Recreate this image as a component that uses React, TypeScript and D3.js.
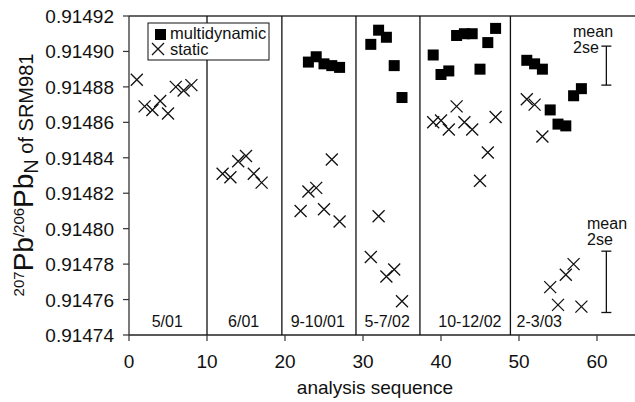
import * as d3 from "d3";
import React from "react";

// analysis sequence number / 207Pb/206Pb ratio
const staticSeq = [1, 2, 3, 4, 5, 6, 7, 8, 12, 13, 14, 15, 16, 17, 22, 23, 24, 25, 26, 27, 31, 32, 33, 34, 35,
  39, 40, 41, 42, 43, 44, 45, 46, 47, 51, 52, 53, 54, 55, 56, 57, 58];
const staticVal = [0.914884, 0.914869, 0.914867, 0.914872, 0.914865, 0.91488, 0.914878, 0.914881,
  0.914831, 0.914829, 0.914838, 0.914841, 0.914831, 0.914826,
  0.91481, 0.914821, 0.914823, 0.914811, 0.914839, 0.914804,
  0.914784, 0.914807, 0.914773, 0.914777, 0.914759,
  0.91486, 0.914861, 0.914856, 0.914869, 0.91486, 0.914856, 0.914827, 0.914843, 0.914863,
  0.914873, 0.91487, 0.914852, 0.914767, 0.914757, 0.914774, 0.91478, 0.914756];

const multiSeq = [23, 24, 25, 26, 27, 31, 32, 33, 34, 35, 39, 40, 41, 42, 43, 44, 45, 46, 47,
  51, 52, 53, 54, 55, 56, 57, 58];
const multiVal = [0.914894, 0.914897, 0.914893, 0.914892, 0.914891,
  0.914904, 0.914912, 0.914908, 0.914892, 0.914874,
  0.914898, 0.914887, 0.914889, 0.914909, 0.91491, 0.91491, 0.91489, 0.914905, 0.914913,
  0.914895, 0.914893, 0.91489, 0.914867, 0.914859, 0.914858, 0.914875, 0.914879];

const dividers = [10, 19.6, 29.1, 37.3, 48.9];
const sessionLabels = ["5/01", "6/01", "9-10/01", "5-7/02", "10-12/02", "2-3/03"];
const sessionCenters = [4.9, 14.7, 24.2, 33.1, 43.7, 52.6];

const yTicks = [0.91474, 0.91476, 0.91478, 0.9148, 0.91482, 0.91484, 0.91486, 0.91488, 0.9149, 0.91492];
const xTicks = [0, 10, 20, 30, 40, 50, 60];

// mean 2se bars: [x, centre, half-width]
const errBars = [
  [61.2, 0.914892, 0.000011],
  [61.2, 0.91477, 0.0000173],
];

const W = 635, H = 402;
const font = "Arial, 'Liberation Sans', sans-serif";

export default function App() {
  const x = d3.scaleLinear().domain([0, 65]).range([129, 636]);
  const y = d3.scaleLinear().domain([0.91474, 0.91492]).range([335, 16]);
  const ink = "#111";

  const cross = (cx: number, cy: number, k: string) => (
    <path key={k} d={`M${cx - 6},${cy - 6}L${cx + 6},${cy + 6}M${cx - 6},${cy + 6}L${cx + 6},${cy - 6}`}
      stroke={ink} strokeWidth={1.3} fill="none" />
  );

  return (
    <svg width={W} height={H} style={{ position: "absolute", left: 0, top: 0, background: "#fff" }}
      fontFamily={font}>
      {/* frame */}
      <line x1={x(0)} x2={W} y1={y(0.91492)} y2={y(0.91492)} stroke="#333" strokeWidth={1.3} />
      <line x1={x(0)} x2={W} y1={y(0.91474)} y2={y(0.91474)} stroke="#222" strokeWidth={1.3} />
      <line x1={x(0)} x2={x(0)} y1={y(0.91492)} y2={y(0.91474)} stroke="#333" strokeWidth={1.3} />
      {dividers.map((d, i) => (
        <line key={"dv" + i} x1={x(d)} x2={x(d)} y1={y(0.91492)} y2={y(0.91474)} stroke={ink} strokeWidth={1.3} />
      ))}

      {/* y axis */}
      {yTicks.map((t, i) => (
        <g key={"yt" + i}>
          <line x1={x(0) - 6} x2={x(0)} y1={y(t)} y2={y(t)} stroke="#333" strokeWidth={1.2} />
          <text x={114} y={y(t) + 7} textAnchor="end" fontSize={19} fill={ink}>{t.toFixed(5)}</text>
        </g>
      ))}
      {/* x axis */}
      {xTicks.map((t, i) => (
        <g key={"xt" + i}>
          <line x1={x(t)} x2={x(t)} y1={y(0.91474)} y2={y(0.91474) + 6} stroke="#333" strokeWidth={1.2} />
          <text x={x(t)} y={368} textAnchor="middle" fontSize={19} fill={ink}>{t}</text>
        </g>
      ))}

      <text x={375} y={394} textAnchor="middle" fontSize={19} fill={ink}>analysis sequence</text>

      <text transform="translate(33,175) rotate(-90)" textAnchor="middle" fill={ink} fontSize={20}>
        <tspan fontSize={15} dy={-9}>207</tspan>
        <tspan fontSize={28} dy={9}>Pb</tspan>
        <tspan fontSize={15} dy={-9}>/206</tspan>
        <tspan fontSize={28} dy={9}>Pb</tspan>
        <tspan fontSize={20} dy={5}>N</tspan>
        <tspan fontSize={20} dy={-5}> of SRM981</tspan>
      </text>

      {/* session labels */}
      {sessionLabels.map((s, i) => (
        <text key={"sl" + i} x={x(sessionCenters[i])} y={327} textAnchor="middle" fontSize={16} fill={ink}>{s}</text>
      ))}

      {/* data */}
      {staticSeq.map((s, i) => cross(x(s), y(staticVal[i]), "st" + i))}
      {multiSeq.map((s, i) => (
        <rect key={"md" + i} x={x(s) - 5.5} y={y(multiVal[i]) - 5.5} width={11} height={11} fill="#000" />
      ))}

      {/* error bars */}
      {errBars.map((e, i) => (
        <g key={"eb" + i} stroke={ink} strokeWidth={1.3}>
          <line x1={x(e[0])} x2={x(e[0])} y1={y(e[1] + e[2])} y2={y(e[1] - e[2])} />
          <line x1={x(e[0]) - 5} x2={x(e[0]) + 5} y1={y(e[1] + e[2])} y2={y(e[1] + e[2])} />
          <line x1={x(e[0]) - 5} x2={x(e[0]) + 5} y1={y(e[1] - e[2])} y2={y(e[1] - e[2])} />
        </g>
      ))}
      <text x={573} y={37} fontSize={16} fill={ink}>mean</text>
      <text x={573} y={53} fontSize={16} fill={ink}>2se</text>
      <text x={587} y={229} fontSize={16} fill={ink}>mean</text>
      <text x={587} y={245} fontSize={16} fill={ink}>2se</text>

      {/* legend */}
      <rect x={148} y={23} width={121} height={37} fill="#fff" stroke={ink} strokeWidth={1} />
      <rect x={155} y={29} width={11} height={11} fill="#000" />
      {cross(158, 49, "lg")}
      <text x={170} y={39} fontSize={16.5} fill={ink}>multidynamic</text>
      <text x={170} y={55} fontSize={16.5} fill={ink}>static</text>
    </svg>
  );
}
